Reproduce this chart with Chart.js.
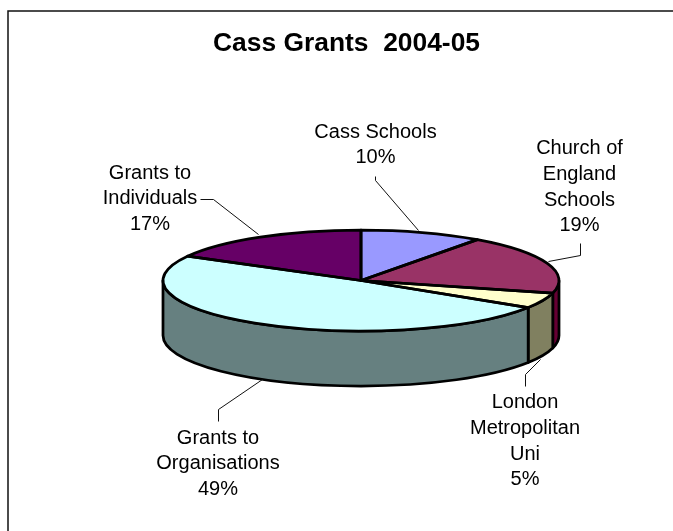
<!DOCTYPE html>
<html><head><meta charset="utf-8">
<style>html,body{margin:0;padding:0;background:#fff}#w{width:673px;height:531px}</style>
<script src="https://cdn.jsdelivr.net/npm/chart.js@4"></script>
</head><body><div id="w"><canvas id="c" width="673" height="531"></canvas></div>
<script>
const categories = ["Cass Schools","Church of England Schools","London Metropolitan Uni","Grants to Organisations","Grants to Individuals"];
const values = [10,19,5,49,17];
const topColors = ["#9999FF","#993366","#FFFFCC","#CCFFFF","#660066"];
const sideColors = ["#666699","#660033","#808060","#668080","#400040"];
const labelLines = [["Cass Schools","10%"],["Church of","England","Schools","19%"],["London","Metropolitan","Uni","5%"],["Grants to","Organisations","49%"],["Grants to","Individuals","17%"]];
const chartTitle = "Cass Grants  2004-05";

const G = {cx:361, cy:280.5, rx:198, ry:50.5, depth:55};
const labelPos = [[375.5,132],[579.5,148.5],[525,402.5],[218,438],[150,173]];
const leaders = [
  [[375,176],[375,180],[418,230]],
  [[580,243],[580,255],[548,261]],
  [[525,386],[525,374],[540,359]],
  [[218,421],[218,409],[262,379]],
  [[200,199],[213,199],[258,234]]
];
function ellipsePath(ctx,a0,a1,dy,ccw){ ctx.ellipse(G.cx,G.cy+(dy||0),G.rx,G.ry,0,a0,a1,!!ccw); }

const pie3d = {
  id:'pie3d',
  beforeDatasetsDraw(chart){
    const ctx=chart.ctx, arcs=chart.getDatasetMeta(0).data;
    ctx.save();
    ctx.lineWidth=2.75; ctx.strokeStyle='#000'; ctx.lineJoin='round';
    // side walls: the part of each slice on the front half of the ellipse (angle 0..PI)
    arcs.forEach((el,i)=>{
      const a0=Math.max(el.startAngle,0), a1=Math.min(el.endAngle,Math.PI);
      const b0=Math.max(el.startAngle-2*Math.PI,0), b1=Math.min(el.endAngle-2*Math.PI,Math.PI);
      [[a0,a1],[b0,b1]].forEach(([p,q])=>{
        if(q<=p) return;
        ctx.beginPath();
        ellipsePath(ctx,p,q,0);
        ellipsePath(ctx,q,p,G.depth,true);
        ctx.closePath();
        ctx.fillStyle=sideColors[i];
        ctx.fill(); ctx.stroke();
      });
    });
    ctx.restore();
    // flatten the library's own slices
    const el=arcs[0];
    ctx.save();
    ctx.translate(G.cx,G.cy);
    ctx.scale(G.rx/el.outerRadius,G.ry/el.outerRadius);
    ctx.translate(-el.x,-el.y);
  },
  afterDatasetsDraw(chart){
    const ctx=chart.ctx, arcs=chart.getDatasetMeta(0).data;
    ctx.restore();
    ctx.save();
    ctx.lineWidth=2.75; ctx.strokeStyle='#000'; ctx.lineJoin='round';
    arcs.forEach(el=>{
      ctx.beginPath();
      ctx.moveTo(G.cx,G.cy);
      ellipsePath(ctx,el.startAngle,el.endAngle,0);
      ctx.closePath();
      ctx.stroke();
    });
    // leader lines
    ctx.lineWidth=1; ctx.strokeStyle='#111';
    leaders.forEach(l=>{
      ctx.beginPath();
      l.forEach((p,i)=> i?ctx.lineTo(p[0]+.5,p[1]+.5):ctx.moveTo(p[0]+.5,p[1]+.5));
      ctx.stroke();
    });
    // labels
    ctx.fillStyle='#000'; ctx.font='20px "Liberation Sans", Arial, sans-serif';
    ctx.textAlign='center'; ctx.textBaseline='middle';
    labelLines.forEach((lines,i)=>{
      lines.forEach((t,j)=>ctx.fillText(t,labelPos[i][0],labelPos[i][1]+j*25.8));
    });
    ctx.restore();
  },
  beforeDraw(chart){
    const ctx=chart.ctx;
    ctx.save();
    ctx.fillStyle='#fff'; ctx.fillRect(0,0,chart.width,chart.height);
    ctx.strokeStyle='#111'; ctx.lineWidth=1.5;
    ctx.beginPath(); ctx.moveTo(8,531); ctx.lineTo(8,11); ctx.lineTo(673,11); ctx.stroke();
    ctx.restore();
  }
};

new Chart(document.getElementById('c'),{
  type:'pie',
  data:{labels:categories,datasets:[{data:values,backgroundColor:topColors,borderWidth:0,hoverOffset:0}]},
  options:{
    responsive:false,animation:false,
    layout:{padding:{left:20,top:0}},
    plugins:{
      legend:{display:false},tooltip:{enabled:false},
      title:{display:true,text:chartTitle,color:'#000',fullSize:false,padding:{top:28,bottom:10},
        font:{family:'"Liberation Sans", Arial, sans-serif',size:26.4,weight:'bold'}}
    }
  },
  plugins:[pie3d]
});
</script></body></html>
